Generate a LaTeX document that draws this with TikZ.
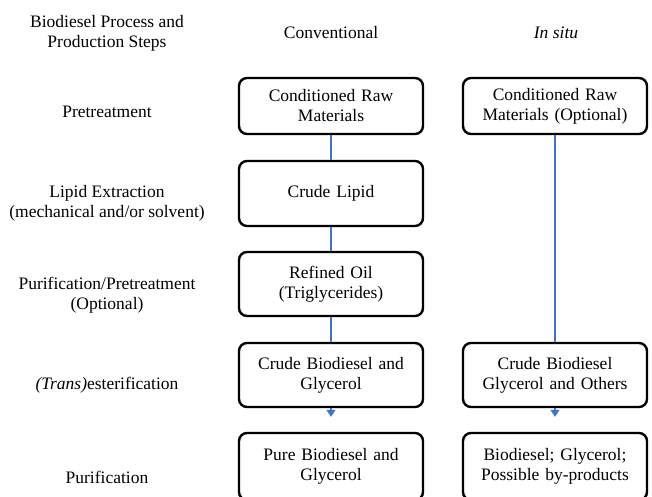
\documentclass[tikz,border=0pt]{standalone}
\usepackage{fontspec}
\setmainfont{Liberation Serif}
\usetikzlibrary{arrows.meta}

\definecolor{flowblue}{HTML}{4472C4}

\tikzset{
	procbox/.style={draw, rectangle, rounded corners=8pt, line width=2.4pt, text width=168pt, inner xsep=8pt, align=center, font=\fontsize{17.5}{20}\selectfont},
	rowlabel/.style={align=center, font=\fontsize{17.5}{20}\selectfont},
	link/.style={draw=flowblue, line width=1.2pt},
}

\begin{document}
\begin{tikzpicture}[x=1pt, y=-1pt]
	\clip (0,0) rectangle (652,496);

	% Column headers
	\node[rowlabel] (hsteps) at (107,33) {Biodiesel Process and\\Production Steps};
	\node[rowlabel] (hconv) at (331,33) {Conventional};
	\node[rowlabel] (hsitu) at (556,33) {\textit{In situ}};

	% Row labels
	\node[rowlabel] (lpre) at (107,112) {Pretreatment};
	\node[rowlabel] (lext) at (107,203) {Lipid Extraction\\(mechanical and/or solvent)};
	\node[rowlabel] (lpur) at (107,295) {Purification/Pretreatment\\(Optional)};
	\node[rowlabel] (lest) at (107,385) {\textit{(Trans)}esterification};
	\node[rowlabel] (lfin) at (107,477) {Purification};

	% Conventional route
	\node[procbox, minimum height=56pt] (raw1) at (331,106) {Conditioned Raw\\Materials};
	\node[procbox, minimum height=65pt] (lipid) at (331,193.5) {Crude Lipid};
	\node[procbox, minimum height=64pt] (oil) at (331,284) {Refined Oil\\(Triglycerides)};
	\node[procbox, minimum height=64pt] (crude1) at (331,375) {Crude Biodiesel and\\Glycerol};
	\node[procbox, minimum height=67pt] (pure1) at (331,466.5) {Pure Biodiesel and\\Glycerol};

	% In situ route
	\node[procbox, minimum height=56pt] (raw2) at (555,106) {Conditioned Raw\\Materials (Optional)};
	\node[procbox, minimum height=64pt] (crude2) at (555,375) {Crude Biodiesel\\Glycerol and Others};
	\node[procbox, minimum height=67pt] (pure2) at (555,466.5) {Biodiesel; Glycerol;\\Possible by-products};

	% Connectors
	\draw[link] (raw1) -- (lipid);
	\draw[link] (lipid) -- (oil);
	\draw[link] (oil) -- (crude1);
	\draw[link] (raw2) -- (crude2);
	\draw[link, -{Triangle[width=9pt, length=7pt]}, shorten >=15pt] (crude1) -- (pure1);
	\draw[link, -{Triangle[width=9pt, length=7pt]}, shorten >=15pt] (crude2) -- (pure2);
\end{tikzpicture}
\end{document}
